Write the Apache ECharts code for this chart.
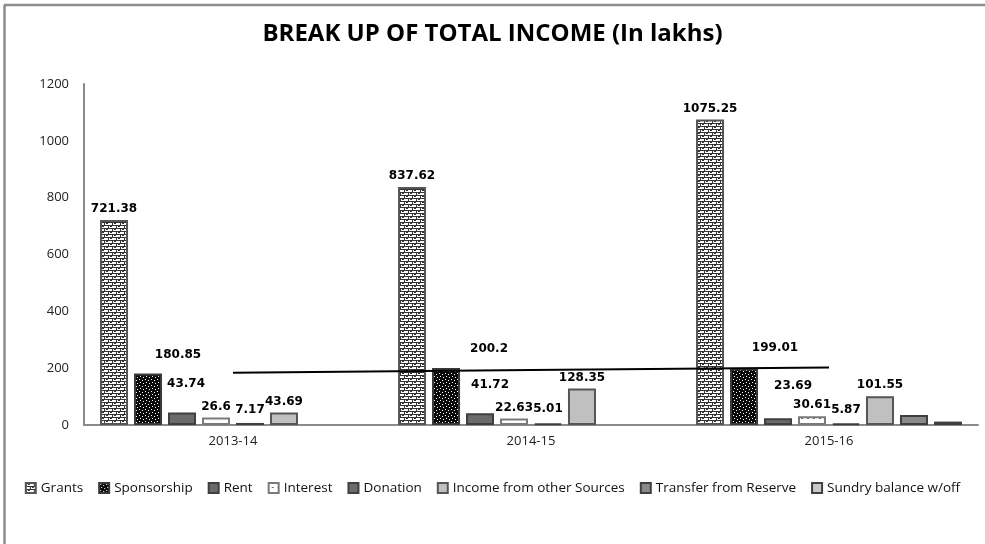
<!DOCTYPE html>
<html>
<head>
<meta charset="UTF-8">
<title>Break up of total income</title>
<style>
  html, body { margin: 0; padding: 0; width: 100%; height: 100%; background: #fff; }
  #main { width: 985px; height: 544px; }
</style>
</head>
<body>
<div id="main"></div>
<script src="https://cdn.jsdelivr.net/npm/echarts@6/dist/echarts.min.js"></script>
<script>
// values (in lakhs)
var years = ['2013-14', '2014-15', '2015-16'];
var seriesNames = ['Grants', 'Sponsorship', 'Rent', 'Interest', 'Donation',
  'Income from other Sources', 'Transfer from Reserve', 'Sundry balance w/off'];
var grants = [721.38, 837.62, 1075.25];
var sponsorship = [180.85, 200.2, 199.01];
var rent = [43.74, 41.72, 23.69];
var interest = [26.6, 22.63, 30.61];
var donation = [7.17, 5.01, 5.87];
var otherIncome = [43.69, 128.35, 101.55];
var transfer = [null, null, 35];
var sundry = [null, null, 12];
// linear trend of sponsorship, as drawn
var sponsorshipTrend = [184.3, 193.4, 202.4];
var yTicks = [0, 200, 400, 600, 800, 1000, 1200];

// little fill patterns like the excel ones
function tile(w, h, bg, fg, pts) {
  var c = document.createElement('canvas');
  c.width = w; c.height = h;
  var ctx = c.getContext('2d');
  ctx.fillStyle = bg;
  ctx.fillRect(0, 0, w, h);
  ctx.fillStyle = fg;
  pts.forEach(function (p) { ctx.fillRect(p[0], p[1], p[2] || 1, p[3] || 1); });
  return { image: c, repeat: 'repeat' };
}
var brick = tile(8, 6, '#ffffff', '#333333',
  [[0, 0, 8, 1], [0, 3, 8, 1], [0, 0, 1, 3], [4, 3, 1, 3], [2, 1, 2, 1], [6, 4, 2, 1]]);
var dots = tile(6, 6, '#0a0a0a', '#ffffff',
  [[1, 1], [4, 2], [2, 4], [5, 5]]);
var sparse = tile(12, 9, '#ffffff', '#6a6a6a', [[3, 4, 2, 1], [9, 4, 2, 1]]);

var fills = [brick, dots, '#6b6b6b', sparse, '#6b6b6b', '#c0c0c0', '#8a8a8a', '#c8c8c8'];
var borders = ['#555555', '#3a3a3a', '#3f3f3f', '#7a7a7a', '#3f3f3f', '#555555', '#3f3f3f', '#3f3f3f'];
var values = [grants, sponsorship, rent, interest, donation, otherIncome, transfer, sundry];
var labelled = [true, true, true, true, true, true, false, false];

// hand placed labels in the original
var labelShift = {
  1: [[30, -8], [43, -8], [31, -10]],
  2: [[4, -18], [10, -17], [15, -21]],
  4: [[0, -2], [0, -3], [0, -2]]
};

var series = values.map(function (arr, si) {
  return {
    name: seriesNames[si],
    type: 'bar',
    barWidth: 28,
    barGap: '21.4%',
    itemStyle: { color: fills[si], borderColor: borders[si], borderWidth: 2 },
    label: {
      show: labelled[si],
      position: 'top',
      distance: 5,
      color: '#000',
      fontFamily: 'DejaVu Sans',
      fontWeight: 'bold',
      fontSize: 12
    },
    data: arr.map(function (v, i) {
      var d = { value: v };
      if (labelShift[si]) d.label = { offset: labelShift[si][i] };
      return d;
    })
  };
});

series.push({
  name: 'trend',
  type: 'line',
  data: sponsorshipTrend,
  symbol: 'none',
  lineStyle: { color: '#000', width: 2 },
  z: 5,
  silent: true
});

var chart = echarts.init(document.getElementById('main'));
chart.setOption({
  backgroundColor: '#fff',
  animation: false,
  title: {
    text: 'BREAK UP OF TOTAL INCOME (In lakhs)',
    left: 'center',
    top: 17,
    textStyle: { fontFamily: 'Open Sans', fontWeight: 'bold', fontSize: 24, color: '#000' }
  },
  legend: {
    data: seriesNames,
    left: 'center',
    top: 476,
    icon: 'rect',
    itemWidth: 10,
    itemHeight: 10,
    itemGap: 15,
    textStyle: { fontFamily: 'Open Sans', fontSize: 13.5, color: '#111' }
  },
  grid: { left: 84, right: 7, top: 84, bottom: 119 },
  xAxis: {
    type: 'category',
    data: years,
    axisLine: { lineStyle: { color: '#8a8a8a', width: 2 } },
    axisTick: { show: false },
    axisLabel: { margin: 10, fontFamily: 'Open Sans', fontSize: 13, color: '#222' }
  },
  yAxis: {
    type: 'value',
    min: yTicks[0],
    max: yTicks[yTicks.length - 1],
    interval: 200,
    axisLine: { show: true, lineStyle: { color: '#8a8a8a', width: 2 } },
    axisTick: { show: false },
    splitLine: { show: false },
    axisLabel: {
      margin: 15, fontFamily: 'Open Sans', fontSize: 13, color: '#222',
      formatter: function (v) { return String(v); }
    }
  },
  graphic: [
    { type: 'line', shape: { x1: 4, y1: 5, x2: 985, y2: 5 }, style: { stroke: '#8c8c8c', lineWidth: 2.5 } },
    { type: 'line', shape: { x1: 4.5, y1: 5, x2: 4.5, y2: 544 }, style: { stroke: '#8c8c8c', lineWidth: 2.5 } }
  ],
  series: series
});
</script>
</body>
</html>
